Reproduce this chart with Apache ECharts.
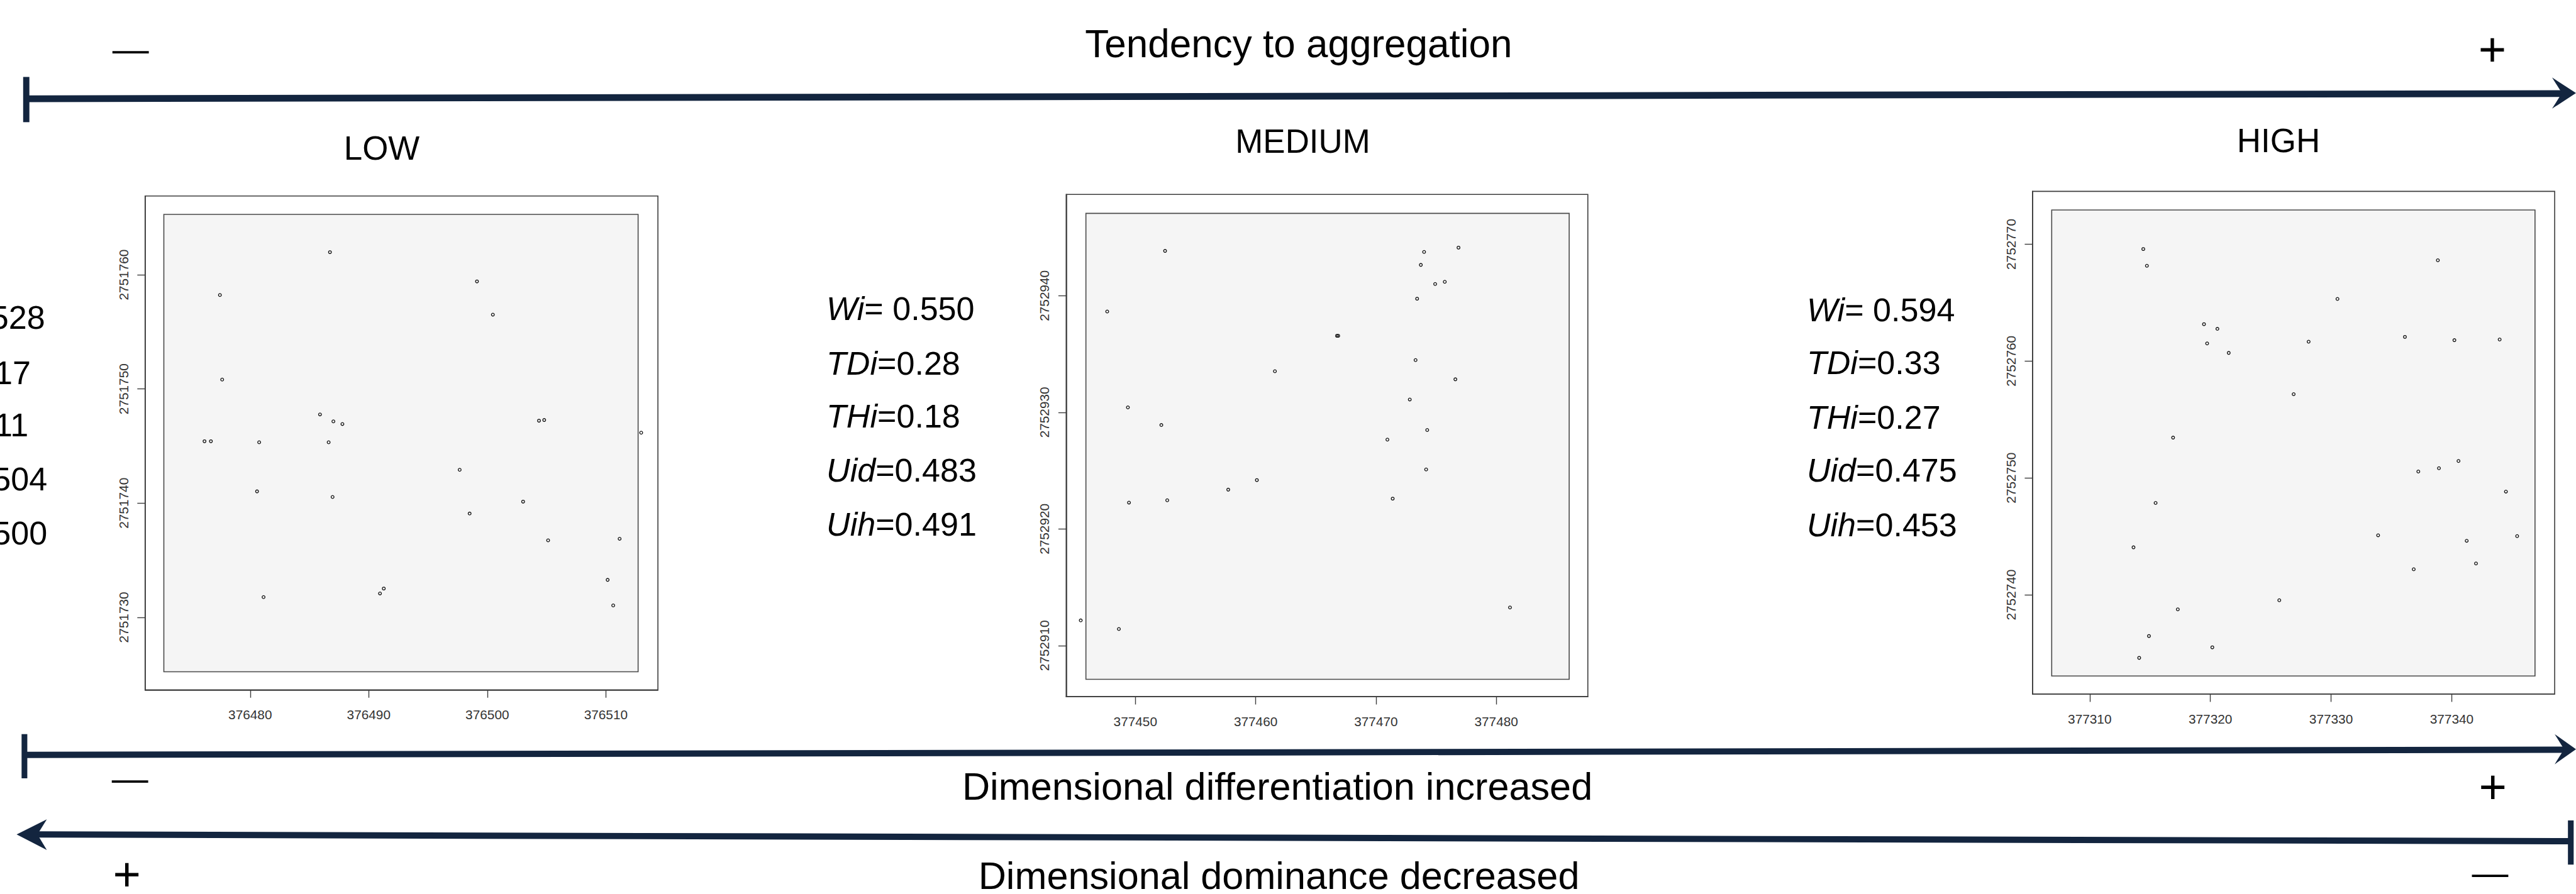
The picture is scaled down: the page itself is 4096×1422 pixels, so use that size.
<!DOCTYPE html>
<html>
<head>
<meta charset="utf-8">
<script src="https://cdn.jsdelivr.net/npm/echarts@6/dist/echarts.min.js"></script>
<style>
html,body{margin:0;padding:0;background:#fff;}
#chart{width:4096px;height:1422px;}
</style>
</head>
<body>
<div id="chart"></div>
<script>
// ---------------- DATA ----------------
const panelNames = ['LOW', 'MEDIUM', 'HIGH'];
const statNames = ['Wi', 'TDi', 'THi', 'Uid', 'Uih'];
const statSeps = ['= ', '=', '=', '=', '='];
const statsLow = ['0.528', '0.17', '0.11', '0.504', '0.500'];
const statsMedium = ['0.550', '0.28', '0.18', '0.483', '0.491'];
const statsHigh = ['0.594', '0.33', '0.27', '0.475', '0.453'];

const headerTitle = 'Tendency to aggregation';
const arrowLabel1 = 'Dimensional differentiation increased';
const arrowLabel2 = 'Dimensional dominance decreased';

const xTicksLow = [376480, 376490, 376500, 376510];
const yTicksLow = [2751730, 2751740, 2751750, 2751760];
const xTicksMedium = [377450, 377460, 377470, 377480];
const yTicksMedium = [2752910, 2752920, 2752930, 2752940];
const xTicksHigh = [377310, 377320, 377330, 377340];
const yTicksHigh = [2752740, 2752750, 2752760, 2752770];

// axis extents [min, max]
const xRangeLow = [376471.14, 376514.39];
const yRangeLow = [2751723.64, 2751766.90];
const xRangeMedium = [377444.25, 377487.61];
const yRangeMedium = [2752905.62, 2752948.68];
const xRangeHigh = [377305.26, 377348.53];
const yRangeHigh = [2752731.50, 2752774.53];

// plotting window (grey square) extents
const windowLowX = [376472.72, 376512.72];
const windowLowY = [2751725.23, 2751765.29];
const windowMediumX = [377445.89, 377486.06];
const windowMediumY = [2752907.11, 2752947.06];
const windowHighX = [377306.85, 377346.90];
const windowHighY = [2752733.05, 2752772.93];

const xLow = [376486.73, 376477.45, 376499.13, 376500.47, 376477.64, 376485.89, 376487.02, 376487.78, 376504.36, 376504.80, 376476.15, 376476.69, 376480.76, 376486.62, 376512.98, 376497.67, 376480.58, 376486.95, 376498.51, 376503.02, 376505.13, 376511.16, 376510.15, 376510.62, 376481.13, 376490.95, 376491.27];
const yLow = [2751761.98, 2751758.23, 2751759.42, 2751756.51, 2751750.82, 2751747.77, 2751747.16, 2751746.93, 2751747.22, 2751747.28, 2751745.42, 2751745.42, 2751745.33, 2751745.33, 2751746.17, 2751742.92, 2751741.03, 2751740.54, 2751739.09, 2751740.13, 2751736.74, 2751736.88, 2751733.28, 2751731.04, 2751731.77, 2751732.09, 2751732.52];

const xMedium = [377452.47, 377447.66, 377474.00, 377476.86, 377473.73, 377475.72, 377474.92, 377473.42, 377466.76, 377466.86, 377473.29, 377461.60, 377476.60, 377449.38, 377472.81, 377452.16, 377474.26, 377470.95, 377474.17, 377460.10, 377457.72, 377449.47, 377452.65, 377471.39, 377481.14, 377445.46, 377448.63];
const yMedium = [2752943.84, 2752938.64, 2752943.75, 2752944.12, 2752942.64, 2752941.19, 2752941.00, 2752939.74, 2752936.56, 2752936.56, 2752934.48, 2752933.52, 2752932.83, 2752930.42, 2752931.10, 2752928.91, 2752928.48, 2752927.66, 2752925.10, 2752924.19, 2752923.37, 2752922.26, 2752922.46, 2752922.60, 2752913.27, 2752912.16, 2752911.42];

const xHigh = [377314.44, 377314.74, 377338.85, 377330.53, 377319.47, 377320.58, 377319.73, 377321.52, 377328.14, 377336.12, 377340.22, 377343.97, 377326.90, 377316.91, 377340.56, 377338.94, 377337.23, 377315.46, 377344.49, 377333.90, 377345.42, 377341.24, 377313.63, 377342.01, 377336.85, 377325.71, 377317.30, 377314.91, 377320.16, 377314.10];
const yHigh = [2752769.59, 2752768.16, 2752768.63, 2752765.32, 2752763.16, 2752762.76, 2752761.51, 2752760.70, 2752761.66, 2752762.07, 2752761.79, 2752761.85, 2752757.17, 2752753.45, 2752751.45, 2752750.83, 2752750.55, 2752747.86, 2752748.83, 2752745.09, 2752745.02, 2752744.62, 2752744.06, 2752742.68, 2752742.18, 2752739.53, 2752738.75, 2752736.47, 2752735.50, 2752734.60];

// ---------------- LAYOUT ----------------
const s = 4096 / 4953;
const P = v => v * s;
const FONT = '"Liberation Sans", Arial, Helvetica, sans-serif';
const NAVY = '#13253f';
const BOX = '#3c3c3c';

const panels = [
  {x: xLow, y: yLow, xr: xRangeLow, yr: yRangeLow, wx: windowLowX, wy: windowLowY, xt: xTicksLow, yt: yTicksLow,
   box: [279, 377, 1265, 1327], name: panelNames[0], nameAt: [734, 285], stats: statsLow, statX: -198, statY: [611, 717, 818, 922, 1026]},
  {x: xMedium, y: yMedium, xr: xRangeMedium, yr: yRangeMedium, wx: windowMediumX, wy: windowMediumY, xt: xTicksMedium, yt: yTicksMedium,
   box: [2050, 374, 3053, 1340], name: panelNames[1], nameAt: [2505, 272], stats: statsMedium, statX: 1589, statY: [594, 699, 801, 905, 1008]},
  {x: xHigh, y: yHigh, xr: xRangeHigh, yr: yRangeHigh, wx: windowHighX, wy: windowHighY, xt: xTicksHigh, yt: yTicksHigh,
   box: [3908, 368, 4912, 1335], name: panelNames[2], nameAt: [4381, 270], stats: statsHigh, statX: 3474, statY: [596, 698, 803, 905, 1010]}
];

const grids = [], xAxes = [], yAxes = [], series = [], graphics = [];

panels.forEach((p, i) => {
  const [l, t, r, b] = p.box;
  grids.push({left: P(l), top: P(t), width: P(r - l), height: P(b - t), show: true,
    borderColor: BOX, borderWidth: 1.6, backgroundColor: '#ffffff', containLabel: false});
  const lab = {color: '#333', fontFamily: FONT, fontSize: 20.8, formatter: v => String(Math.round(v))};
  xAxes.push({type: 'value', gridIndex: i, min: p.xr[0], max: p.xr[1], position: 'bottom',
    axisLine: {show: true, onZero: false, lineStyle: {color: BOX, width: 1.6}},
    axisTick: {show: true, inside: false, length: P(15), customValues: p.xt, lineStyle: {color: BOX, width: 1.4}},
    axisLabel: Object.assign({customValues: p.xt, margin: P(35)}, lab),
    splitLine: {show: false}});
  yAxes.push({type: 'value', gridIndex: i, min: p.yr[0], max: p.yr[1], position: 'left',
    axisLine: {show: true, onZero: false, lineStyle: {color: BOX, width: 1.6}},
    axisTick: {show: true, inside: false, length: P(15), customValues: p.yt, lineStyle: {color: BOX, width: 1.4}},
    axisLabel: Object.assign({customValues: p.yt, margin: P(29), rotate: 90}, lab),
    splitLine: {show: false}});
  series.push({type: 'scatter', xAxisIndex: i, yAxisIndex: i, z: 5,
    data: p.x.map((v, k) => [v, p.y[k]]),
    symbol: 'circle', symbolSize: 4.6,
    itemStyle: {color: 'rgba(255,255,255,0)', borderColor: '#111', borderWidth: 1.3, opacity: 1},
    emphasis: {disabled: true},
    markArea: {silent: true, z: 1,
      itemStyle: {color: '#f5f5f5', borderColor: '#4a4a4a', borderWidth: 1.6},
      data: [[{coord: [p.wx[0], p.wy[1]]}, {coord: [p.wx[1], p.wy[0]]}]]}});
  // panel name
  graphics.push({type: 'text', x: P(p.nameAt[0]), y: P(p.nameAt[1]), silent: true,
    style: {text: p.name, fontFamily: FONT, fontSize: P(64), fill: '#000', align: 'center', verticalAlign: 'middle'}});
  // statistics
  p.stats.forEach((v, k) => {
    graphics.push({type: 'text', x: P(p.statX), y: P(p.statY[k]), silent: true,
      style: {text: '{i|' + statNames[k] + '}{n|' + statSeps[k] + v + '}',
        fontFamily: FONT, fontSize: P(63), fill: '#000', align: 'left', verticalAlign: 'middle',
        rich: {i: {fontStyle: 'italic', fontFamily: FONT, fontSize: P(63), fill: '#000'},
               n: {fontFamily: FONT, fontSize: P(63), fill: '#000'}}}});
  });
});

function txt(t, x, y, size, lh) {
  graphics.push({type: 'text', x: P(x), y: P(y), silent: true,
    style: {text: t, fontFamily: FONT, fontSize: P(size), lineHeight: P(lh || size), fill: '#000',
      align: 'center', verticalAlign: 'middle'}});
}
function shaft(x1, y1, x2, y2, w) {
  graphics.push({type: 'polyline', silent: true, shape: {points: [[P(x1), P(y1)], [P(x2), P(y2)]]},
    style: {stroke: NAVY, lineWidth: P(w), fill: null}});
}
function bar(x, y1, y2, w) {
  graphics.push({type: 'rect', silent: true, shape: {x: P(x - w / 2), y: P(y1), width: P(w), height: P(y2 - y1)},
    style: {fill: NAVY}});
}
function head(tip, back1, notch, back2) {
  graphics.push({type: 'polygon', silent: true,
    shape: {points: [tip, back1, notch, back2].map(q => [P(q[0]), P(q[1])])}, style: {fill: NAVY}});
}

// top arrow
bar(50.5, 148, 235, 12);
shaft(50, 190, 4930, 180, 13);
head([4953, 179], [4907, 149], [4926, 179], [4907, 209]);
txt(headerTitle, 2497, 84, 75);
txt('\u2014', 251, 94, 70, 50);
txt('+', 4792, 95, 92, 60);

// bottom arrow 1
bar(47, 1412, 1497, 11);
shaft(47, 1452, 4932, 1442, 12);
head([4953, 1441], [4912, 1412], [4930, 1441], [4912, 1470]);
txt(arrowLabel1, 2456, 1513, 74, 64);
txt('\u2014', 250, 1497, 70, 50);
txt('+', 4793, 1513, 92, 60);

// bottom arrow 2
bar(4943, 1578, 1663, 11);
shaft(70, 1605, 4943, 1618, 12);
head([32, 1605], [90, 1576], [72, 1605], [90, 1635]);
txt(arrowLabel2, 2459, 1684, 74, 64);
txt('+', 244, 1682, 92, 60);
txt('\u2014', 4788, 1678, 70, 50);

const chart = echarts.init(document.getElementById('chart'), null, {renderer: 'svg', width: 4096, height: 1422});
chart.setOption({
  animation: false,
  backgroundColor: '#ffffff',
  grid: grids,
  xAxis: xAxes,
  yAxis: yAxes,
  series: series,
  graphic: graphics
});
</script>
</body>
</html>
